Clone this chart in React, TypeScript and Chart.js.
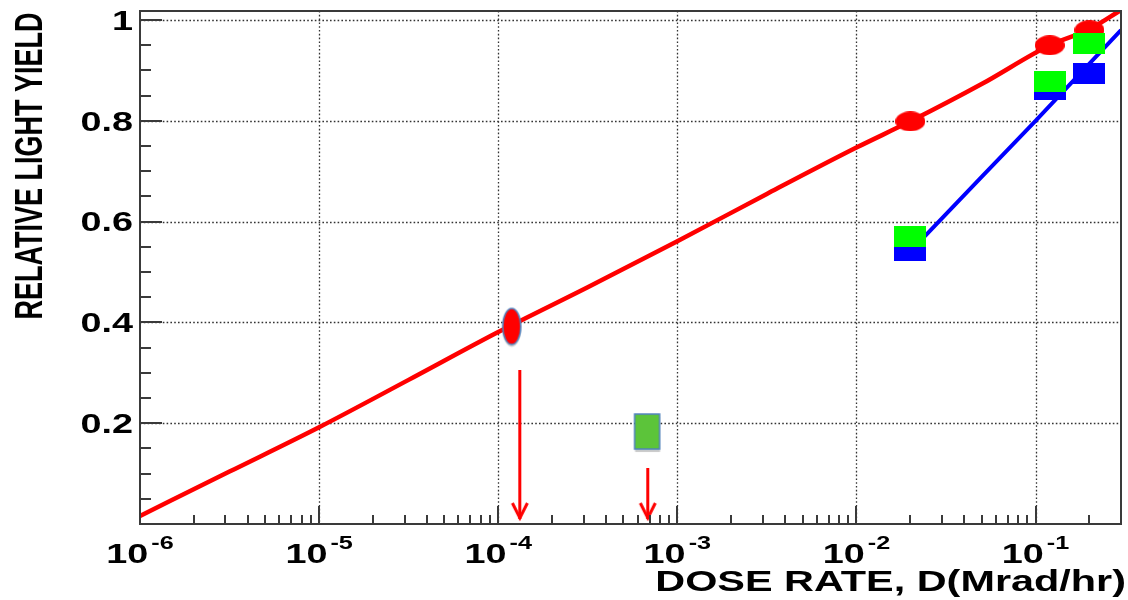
import React, { useEffect, useRef } from 'react';
import { Chart, registerables } from 'chart.js';

Chart.register(...registerables);

// ---- Data ----
const xDecades = [1e-6, 1e-5, 1e-4, 1e-3, 1e-2, 1e-1];
const xExponents = ['-6', '-5', '-4', '-3', '-2', '-1'];
const yTickValues = [0.2, 0.4, 0.6, 0.8, 1];
const yTickLabels = ['0.2', '0.4', '0.6', '0.8', '1'];
const xTitle = 'DOSE RATE, D(Mrad/hr)';
const yTitle = 'RELATIVE LIGHT YIELD';

// red fitted curve
const redLineX = [1e-6, 3.16e-6, 1e-5, 3.16e-5, 1e-4, 3.16e-4, 1e-3, 3.16e-3, 1e-2, 2e-2, 5e-2, 0.12, 0.2, 0.3];
const redLineY = [0.016, 0.104, 0.192, 0.286, 0.381, 0.47, 0.561, 0.655, 0.747, 0.799, 0.873, 0.95, 0.982, 1.02];
// blue line
const blueLineX = [0.02, 0.05, 0.1, 0.3];
const blueLineY = [0.541, 0.689, 0.8, 0.98];
// measured points
const doseRates = [0.02, 0.12, 0.2];
const redYield = [0.799, 0.95, 0.98];
const greenYield = [0.570, 0.879, 0.953];
const blueYield = [0.543, 0.862, 0.893];
// annotations
const markX = [1.19e-4];
const markY = [0.392];
const boxX = [6.78e-4];
const boxY = [0.1835];
const arrowX = [1.32e-4, 6.84e-4];
const arrowTop = [0.3056, 0.111];
const arrowTip = [0.0099, 0.0099];

const X_MIN = 1e-6;
const X_MAX = 0.3;
const Y_MIN = 0;
const Y_MAX = 1.018;

const FONT = '"Liberation Sans", Arial, Helvetica, sans-serif';
const SX = 1.4; // horizontal stretch of the original picture's text

function makeCanvas(w: number, h: number, draw: (c: CanvasRenderingContext2D) => void) {
  const cv = document.createElement('canvas');
  cv.width = w;
  cv.height = h;
  const c = cv.getContext('2d') as CanvasRenderingContext2D;
  draw(c);
  return cv;
}

function stretchedText(ctx: CanvasRenderingContext2D, text: string, x: number, y: number, align: string, sx: number) {
  const w = ctx.measureText(text).width * sx;
  const left = align === 'right' ? x - w : align === 'center' ? x - w / 2 : x;
  ctx.save();
  ctx.translate(left, y);
  ctx.scale(sx, 1);
  ctx.textAlign = 'left';
  ctx.fillText(text, 0, 0);
  ctx.restore();
}

const decorPlugin = {
  id: 'decor',
  beforeDatasetsDraw(chart: any) {
    const { ctx, chartArea: a, scales } = chart;
    const xs = scales.x;
    const ys = scales.y;
    ctx.save();
    ctx.strokeStyle = '#333';
    ctx.lineWidth = 1.3;
    ctx.setLineDash([1.6, 2.2]);
    yTickValues.forEach((v) => {
      const py = Math.round(ys.getPixelForValue(v)) + 0.5;
      ctx.beginPath();
      ctx.moveTo(a.left, py);
      ctx.lineTo(a.right, py);
      ctx.stroke();
    });
    xDecades.slice(1).forEach((v) => {
      const px = Math.round(xs.getPixelForValue(v)) + 0.5;
      ctx.beginPath();
      ctx.moveTo(px, a.top);
      ctx.lineTo(px, a.bottom);
      ctx.stroke();
    });
    ctx.restore();
  },
  afterDatasetsDraw(chart: any) {
    const { ctx, chartArea: a, scales } = chart;
    const xs = scales.x;
    const ys = scales.y;
    ctx.save();
    ctx.setLineDash([]);
    ctx.strokeStyle = '#3a3a3a';
    ctx.lineWidth = 2;
    ctx.strokeRect(a.left, a.top, a.right - a.left, a.bottom - a.top);
    // y ticks
    ctx.lineWidth = 2;
    for (let i = 1; i <= 20; i++) {
      const v = i * 0.05;
      if (v > Y_MAX) break;
      const py = Math.round(ys.getPixelForValue(v));
      const major = i % 4 === 0;
      ctx.beginPath();
      ctx.moveTo(a.left, py);
      ctx.lineTo(a.left + (major ? 22 : 11), py);
      ctx.stroke();
    }
    // x ticks
    xDecades.forEach((d, di) => {
      for (let k = 1; k <= 9; k++) {
        const v = d * k;
        if (v >= X_MAX * 0.999) break;
        if (di === 0 && k === 1) continue;
        const px = Math.round(xs.getPixelForValue(v));
        ctx.beginPath();
        ctx.moveTo(px, a.bottom);
        ctx.lineTo(px, a.bottom - (k === 1 ? 18 : 9));
        ctx.stroke();
      }
    });
    ctx.restore();
  },
  afterDraw(chart: any) {
    const { ctx, chartArea: a, scales } = chart;
    const xs = scales.x;
    const ys = scales.y;
    ctx.save();
    ctx.fillStyle = '#000';
    ctx.textBaseline = 'alphabetic';
    // y tick labels
    ctx.font = `bold 27px ${FONT}`;
    yTickLabels.forEach((lab, i) => {
      const py = ys.getPixelForValue(yTickValues[i]);
      stretchedText(ctx, lab, a.left - 7, py + 9.7, 'right', SX);
    });
    // x tick labels (10 with superscript exponent)
    xDecades.forEach((d, i) => {
      const px = xs.getPixelForValue(d);
      ctx.font = `bold 27px ${FONT}`;
      const wBase = ctx.measureText('10').width * SX;
      ctx.font = `bold 18px ${FONT}`;
      const wExp = ctx.measureText(xExponents[i]).width * SX;
      const total = wBase + 3 + wExp;
      const left = px - total / 2;
      ctx.font = `bold 27px ${FONT}`;
      stretchedText(ctx, '10', left, 563, 'left', SX);
      ctx.font = `bold 18px ${FONT}`;
      stretchedText(ctx, xExponents[i], left + wBase + 3, 549, 'left', SX);
    });
    // x title
    ctx.font = `bold 30px ${FONT}`;
    stretchedText(ctx, xTitle, 1126, 591, 'right', 1.38);
    // y title
    ctx.font = `bold 27px ${FONT}`;
    ctx.save();
    ctx.translate(42, 166);
    ctx.scale(1.45, 1);
    ctx.rotate(-Math.PI / 2);
    ctx.textAlign = 'center';
    ctx.fillText(yTitle, 0, 0);
    ctx.restore();
    ctx.restore();
  },
};

export default function App() {
  const ref = useRef<HTMLCanvasElement | null>(null);

  useEffect(() => {
    document.body.style.margin = '0';
    const canvas = ref.current;
    if (!canvas) return;

    const redEllipse = makeCanvas(30, 20, (c) => {
      c.fillStyle = '#ff0000';
      c.beginPath();
      c.ellipse(15, 10, 15, 10, 0, 0, Math.PI * 2);
      c.fill();
    });
    const greenSquare = makeCanvas(32, 21, (c) => {
      c.fillStyle = '#00ff00';
      c.fillRect(0, 0, 32, 21);
    });
    const blueSquare = makeCanvas(32, 21, (c) => {
      c.fillStyle = '#0000ff';
      c.fillRect(0, 0, 32, 21);
    });
    const tallEllipse = makeCanvas(26, 46, (c) => {
      c.fillStyle = 'rgba(0,0,0,0.18)';
      c.beginPath();
      c.ellipse(13, 25, 9.5, 18.5, 0, 0, Math.PI * 2);
      c.fill();
      c.fillStyle = '#ff0000';
      c.strokeStyle = '#4f81bd';
      c.lineWidth = 1.5;
      c.beginPath();
      c.ellipse(13, 23, 9, 18, 0, 0, Math.PI * 2);
      c.fill();
      c.stroke();
    });
    const greenBox = makeCanvas(33, 47, (c) => {
      c.fillStyle = 'rgba(0,0,0,0.2)';
      c.fillRect(4.5, 9, 25, 35);
      c.fillStyle = '#5cc43a';
      c.strokeStyle = '#4f81bd';
      c.lineWidth = 1.5;
      c.fillRect(4, 6, 25, 35);
      c.strokeRect(4, 6, 25, 35);
    });
    const chevron = makeCanvas(20, 36, (c) => {
      c.strokeStyle = '#ff0000';
      c.lineWidth = 3;
      c.lineJoin = 'miter';
      c.beginPath();
      c.moveTo(2.5, 2);
      c.lineTo(10, 17);
      c.lineTo(17.5, 2);
      c.stroke();
    });

    const pts = (xa: number[], ya: number[]) => xa.map((x, i) => ({ x, y: ya[i] }));

    const arrowDataset = (i: number) => ({
      label: 'arrow' + i,
      data: [
        { x: arrowX[i], y: arrowTop[i] },
        { x: arrowX[i], y: arrowTip[i] },
      ],
      borderColor: '#ff0000',
      borderWidth: 3,
      pointRadius: [0, 1],
      pointStyle: chevron,
      order: 0,
    });

    const chart = new Chart(canvas, {
      type: 'line',
      data: {
        datasets: [
          arrowDataset(0),
          arrowDataset(1),
          {
            label: 'box',
            data: pts(boxX, boxY),
            showLine: false,
            pointRadius: 1,
            pointStyle: greenBox,
            order: 1,
          },
          {
            label: 'mark',
            data: pts(markX, markY),
            showLine: false,
            pointRadius: 1,
            pointStyle: tallEllipse,
            order: 1,
          },
          {
            label: 'green',
            data: pts(doseRates, greenYield),
            showLine: false,
            pointRadius: 1,
            pointStyle: greenSquare,
            order: 2,
          },
          {
            label: 'redPts',
            data: pts(doseRates, redYield),
            showLine: false,
            pointRadius: 1,
            pointStyle: redEllipse,
            order: 3,
          },
          {
            label: 'bluePts',
            data: pts(doseRates, blueYield),
            showLine: false,
            pointRadius: 1,
            pointStyle: blueSquare,
            order: 4,
          },
          {
            label: 'blueLine',
            data: pts(blueLineX, blueLineY),
            borderColor: '#0000ff',
            borderWidth: 4,
            pointRadius: 0,
            order: 5,
            clip: 0,
          },
          {
            label: 'redLine',
            data: pts(redLineX, redLineY),
            borderColor: '#ff0000',
            borderWidth: 4.5,
            pointRadius: 0,
            cubicInterpolationMode: 'monotone',
            order: 6,
            clip: 0,
          },
        ] as any,
      },
      options: {
        responsive: false,
        animation: false,
        events: [],
        layout: { padding: { top: 11, right: 4, left: 0, bottom: 0 } },
        plugins: { legend: { display: false }, tooltip: { enabled: false } },
        scales: {
          x: {
            type: 'logarithmic',
            min: X_MIN,
            max: X_MAX,
            ticks: { display: false },
            grid: { display: false },
            border: { display: false },
            afterFit: (s: any) => {
              s.height = 76;
            },
          },
          y: {
            type: 'linear',
            min: Y_MIN,
            max: Y_MAX,
            ticks: { display: false },
            grid: { display: false },
            border: { display: false },
            afterFit: (s: any) => {
              s.width = 140;
            },
          },
        },
      } as any,
      plugins: [decorPlugin],
    });

    return () => chart.destroy();
  }, []);

  return (
    <div style={{ width: 1128, height: 600, background: '#fff' }}>
      <canvas ref={ref} width={1128} height={600} style={{ display: 'block' }} />
    </div>
  );
}
